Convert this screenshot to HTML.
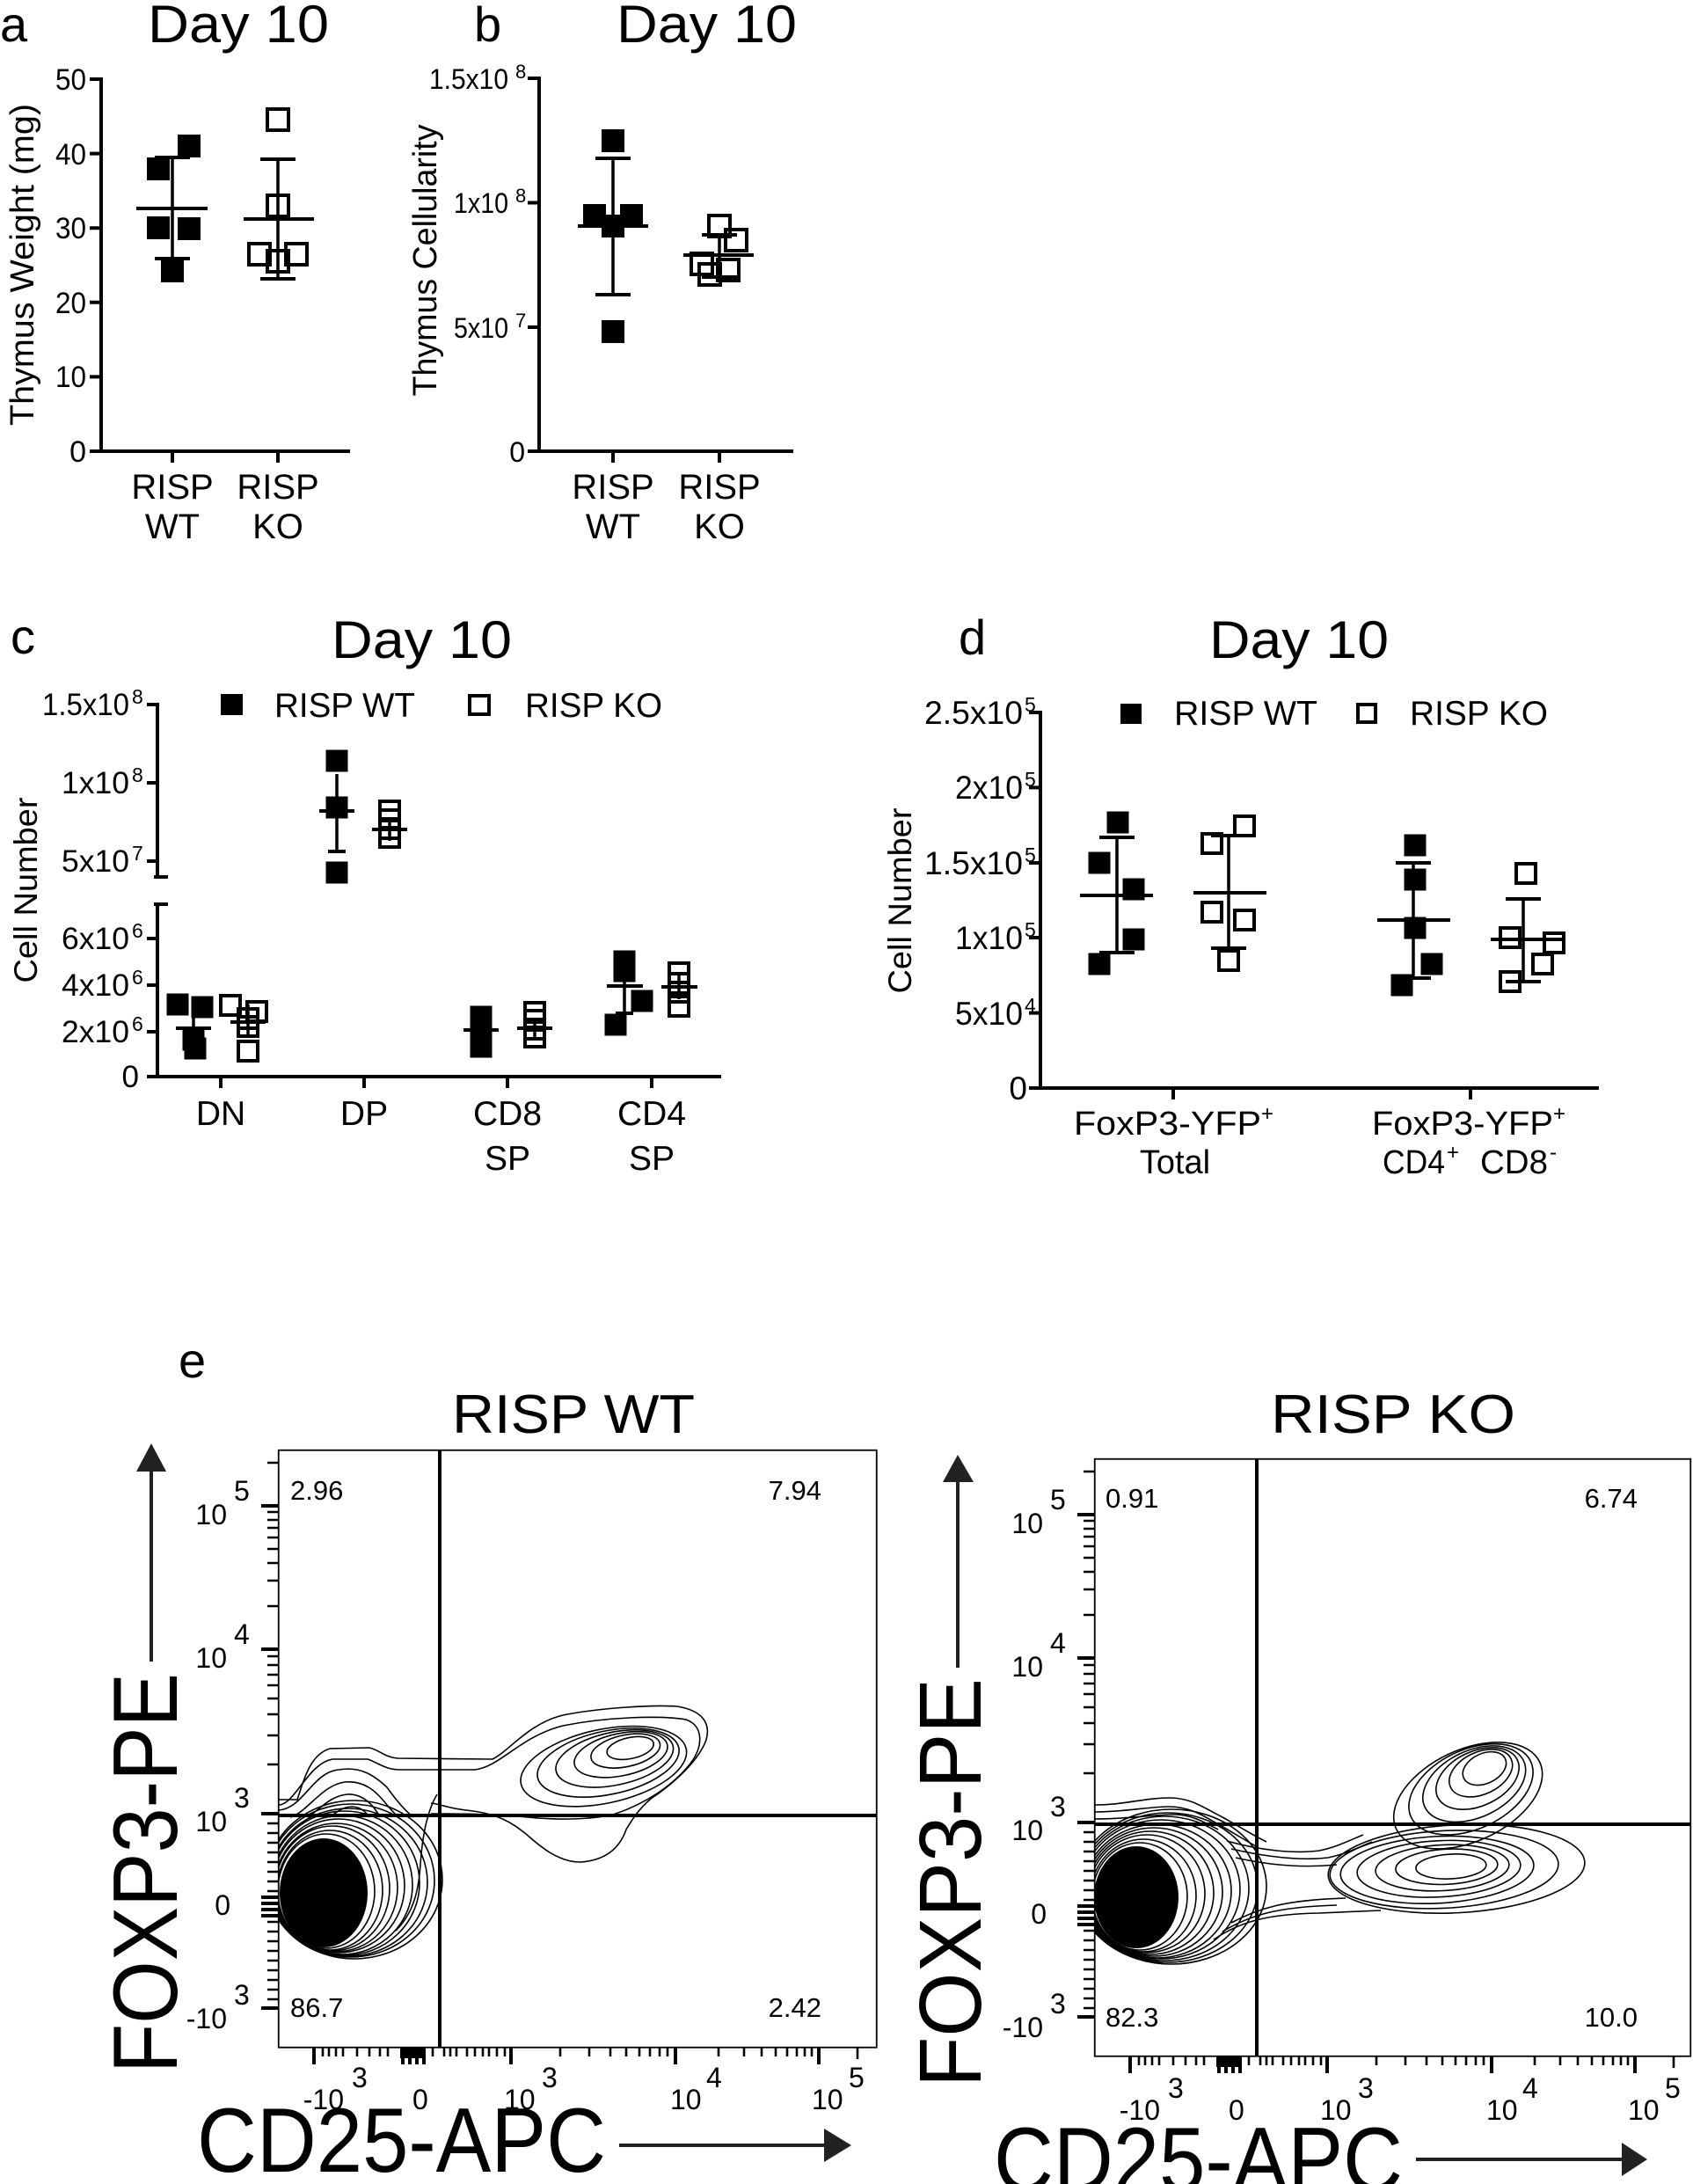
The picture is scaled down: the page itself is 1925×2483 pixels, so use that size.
<!DOCTYPE html>
<html><head><meta charset="utf-8"><style>
html,body{margin:0;padding:0;background:#fff;}
svg{display:block;}
text{font-family:"Liberation Sans",Arial,sans-serif;fill:#000;}
</style></head><body>
<svg width="1925" height="2483" viewBox="0 0 1925 2483" xmlns="http://www.w3.org/2000/svg">
<defs>
<clipPath id="cwt"><rect x="317" y="1649" width="679" height="678"/></clipPath>
<clipPath id="cko"><rect x="1245" y="1659" width="677" height="678"/></clipPath>
</defs>
<rect width="1925" height="2483" fill="#fff"/>

<!-- ===== Panel a ===== -->
<text x="0" y="47" font-size="56">a</text>
<text x="168" y="48" font-size="60" textLength="206" lengthAdjust="spacingAndGlyphs">Day 10</text>
<g stroke="#000" stroke-width="4" fill="none">
<line x1="115" y1="88" x2="115" y2="515"/>
<line x1="113" y1="513" x2="398" y2="513"/>
<path d="M102,90H115M102,174.6H115M102,259.2H115M102,343.8H115M102,428.4H115M102,513H115"/>
<path d="M196,513V526M316,513V526"/>
</g>
<g font-size="34" text-anchor="end">
<text x="98" y="102" textLength="35" lengthAdjust="spacingAndGlyphs">50</text>
<text x="98" y="187" textLength="35" lengthAdjust="spacingAndGlyphs">40</text>
<text x="98" y="271" textLength="35" lengthAdjust="spacingAndGlyphs">30</text>
<text x="98" y="356" textLength="35" lengthAdjust="spacingAndGlyphs">20</text>
<text x="98" y="440" textLength="35" lengthAdjust="spacingAndGlyphs">10</text>
<text x="98" y="525">0</text>
</g>
<g font-size="40" text-anchor="middle">
<text x="196" y="567">RISP</text><text x="196" y="612">WT</text>
<text x="316" y="567">RISP</text><text x="316" y="612">KO</text>
</g>
<text transform="translate(38,301) rotate(-90)" font-size="38" text-anchor="middle" textLength="366" lengthAdjust="spacingAndGlyphs">Thymus Weight (mg)</text>
<g fill="#000">
<rect x="167" y="179" width="26" height="26"/><rect x="202" y="153" width="26" height="26"/>
<rect x="167" y="246" width="26" height="26"/><rect x="202" y="247" width="26" height="26"/>
<rect x="183" y="295" width="26" height="26"/>
</g>
<g stroke="#000" fill="none">
<path stroke-width="4" d="M155,237H236M176,179H216M176,294H216"/>
<path stroke-width="3.5" d="M196,179V294"/>
<path stroke-width="4" d="M277,249H357M296,181H336M296,317H336"/>
<path stroke-width="3.5" d="M316,181V317"/>
<rect x="304" y="124" width="24" height="24" stroke-width="4"/>
<rect x="304" y="222" width="24" height="24" stroke-width="4"/>
<rect x="283" y="277" width="24" height="24" stroke-width="4"/>
<rect x="325" y="277" width="24" height="24" stroke-width="4"/>
<rect x="304" y="285" width="24" height="24" stroke-width="4"/>
</g>

<!-- ===== Panel b ===== -->
<text x="539" y="47" font-size="56">b</text>
<text x="701" y="48" font-size="60" textLength="205" lengthAdjust="spacingAndGlyphs">Day 10</text>
<g stroke="#000" stroke-width="4" fill="none">
<line x1="613" y1="87" x2="613" y2="515"/>
<line x1="611" y1="513" x2="902" y2="513"/>
<path d="M600,89H613M600,230.5H613M600,372H613M600,513H613"/>
<path d="M697,513V526M818,513V526"/>
</g>
<g font-size="32" text-anchor="end">
<text x="578" y="101" textLength="90" lengthAdjust="spacingAndGlyphs">1.5x10</text>
<text x="578" y="242" textLength="62" lengthAdjust="spacingAndGlyphs">1x10</text>
<text x="578" y="384" textLength="62" lengthAdjust="spacingAndGlyphs">5x10</text>
<text x="597" y="525">0</text>
</g>
<g font-size="22">
<text x="586" y="89">8</text><text x="586" y="230">8</text><text x="586" y="372">7</text>
</g>
<g font-size="40" text-anchor="middle">
<text x="697" y="567">RISP</text><text x="697" y="612">WT</text>
<text x="818" y="567">RISP</text><text x="818" y="612">KO</text>
</g>
<text transform="translate(496,296) rotate(-90)" font-size="38" text-anchor="middle" textLength="309" lengthAdjust="spacingAndGlyphs">Thymus Cellularity</text>
<g fill="#000">
<rect x="684" y="147" width="26" height="26"/><rect x="663" y="232" width="26" height="26"/>
<rect x="705" y="232" width="26" height="26"/><rect x="684" y="244" width="26" height="26"/>
<rect x="684" y="364" width="26" height="26"/>
</g>
<g stroke="#000" fill="none">
<path stroke-width="4" d="M657,257H737M677,180H717M677,335H717"/>
<path stroke-width="3.5" d="M697,180V335"/>
<path stroke-width="4" d="M777,290H857M798,267H838M798,315H838"/>
<path stroke-width="3.5" d="M818,267V315"/>
<rect x="806" y="245" width="24" height="24" stroke-width="4"/>
<rect x="825" y="261" width="24" height="24" stroke-width="4"/>
<rect x="786" y="288" width="24" height="24" stroke-width="4"/>
<rect x="816" y="295" width="24" height="24" stroke-width="4"/>
<rect x="795" y="300" width="24" height="24" stroke-width="4"/>
</g>

<!-- ===== Panel c ===== -->
<text x="12" y="743" font-size="56">c</text>
<text x="377" y="748" font-size="60" textLength="205" lengthAdjust="spacingAndGlyphs">Day 10</text>
<rect x="251" y="789" width="25" height="24" fill="#000"/>
<text x="312" y="815" font-size="39" textLength="160" lengthAdjust="spacingAndGlyphs">RISP WT</text>
<rect x="534" y="791" width="22" height="21" fill="none" stroke="#000" stroke-width="4"/>
<text x="597" y="815" font-size="39" textLength="156" lengthAdjust="spacingAndGlyphs">RISP KO</text>
<g stroke="#000" stroke-width="4" fill="none">
<line x1="179" y1="799" x2="179" y2="997"/>
<line x1="179" y1="1028" x2="179" y2="1226"/>
<path d="M175,997H191M175,1028H191"/>
<line x1="177" y1="1224" x2="820" y2="1224"/>
<path d="M167,801H179M167,890H179M167,979H179M167,1067H179M167,1120H179M167,1173H179M167,1224H179"/>
<path d="M251,1224V1237M414,1224V1237M577,1224V1237M741,1224V1237"/>
</g>
<g font-size="35" text-anchor="end">
<text x="147" y="813" textLength="99" lengthAdjust="spacingAndGlyphs">1.5x10</text>
<text x="147" y="902" textLength="77" lengthAdjust="spacingAndGlyphs">1x10</text>
<text x="147" y="991" textLength="77" lengthAdjust="spacingAndGlyphs">5x10</text>
<text x="147" y="1079" textLength="77" lengthAdjust="spacingAndGlyphs">6x10</text>
<text x="147" y="1132" textLength="77" lengthAdjust="spacingAndGlyphs">4x10</text>
<text x="147" y="1185" textLength="77" lengthAdjust="spacingAndGlyphs">2x10</text>
<text x="158" y="1236">0</text>
</g>
<g font-size="23">
<text x="150" y="800">8</text><text x="150" y="889">8</text><text x="150" y="978">7</text>
<text x="150" y="1066">6</text><text x="150" y="1119">6</text><text x="150" y="1172">6</text>
</g>
<g font-size="39" text-anchor="middle">
<text x="251" y="1279">DN</text><text x="414" y="1279">DP</text>
<text x="577" y="1279">CD8</text><text x="577" y="1330">SP</text>
<text x="741" y="1279">CD4</text><text x="741" y="1330">SP</text>
</g>
<text transform="translate(42,1012) rotate(-90)" font-size="37" text-anchor="middle" textLength="211" lengthAdjust="spacingAndGlyphs">Cell Number</text>
<g fill="#000">
<rect x="189.5" y="1129.5" width="25" height="25"/><rect x="217.5" y="1132.5" width="25" height="25"/>
<rect x="207.5" y="1169.5" width="25" height="25"/><rect x="209.5" y="1179.5" width="25" height="25"/>
<rect x="370.5" y="852.5" width="25" height="25"/><rect x="370.5" y="905.5" width="25" height="25"/>
<rect x="370.5" y="979.5" width="25" height="25"/>
<rect x="534.5" y="1143.5" width="25" height="25"/><rect x="534.5" y="1153.5" width="25" height="25"/>
<rect x="534.5" y="1165.5" width="25" height="25"/><rect x="534.5" y="1177.5" width="25" height="25"/>
<rect x="697.5" y="1080.5" width="25" height="25"/><rect x="697.5" y="1091.5" width="25" height="25"/>
<rect x="717.5" y="1125.5" width="25" height="25"/><rect x="687.5" y="1152.5" width="25" height="25"/>
</g>
<g stroke="#000" fill="none" stroke-width="4">
<rect x="251" y="1132" width="22" height="22"/><rect x="281" y="1139" width="22" height="22"/>
<rect x="271" y="1147" width="22" height="22"/><rect x="271" y="1156" width="22" height="22"/>
<rect x="271" y="1184" width="22" height="22"/>
<rect x="432" y="911" width="22" height="22"/><rect x="432" y="921" width="22" height="22"/>
<rect x="432" y="931" width="22" height="22"/><rect x="432" y="941" width="22" height="22"/>
<rect x="597" y="1140" width="22" height="22"/><rect x="597" y="1149" width="22" height="22"/>
<rect x="597" y="1159" width="22" height="22"/><rect x="597" y="1168" width="22" height="22"/>
<rect x="761" y="1095" width="22" height="22"/><rect x="761" y="1107" width="22" height="22"/>
<rect x="761" y="1117" width="22" height="22"/><rect x="761" y="1133" width="22" height="22"/>
<path d="M200,1169H240M262,1162H302M363,922H403M423,943H463M527,1171H567M588,1169H628M690,1121H731M752,1122H793"/>
<path d="M373,968H393M700,1152H720"/>
<path stroke-width="3.5" d="M220,1147V1188M282,1142V1180M383,880V968M443,930V956M547,1160V1182M608,1157V1181M710,1090V1152M772,1108V1136"/>
</g>

<!-- ===== Panel d ===== -->
<text x="1090" y="744" font-size="56">d</text>
<text x="1375" y="748" font-size="60" textLength="204" lengthAdjust="spacingAndGlyphs">Day 10</text>
<rect x="1274" y="800" width="24" height="23" fill="#000"/>
<text x="1335" y="824" font-size="39" textLength="163" lengthAdjust="spacingAndGlyphs">RISP WT</text>
<rect x="1544" y="801" width="20" height="20" fill="none" stroke="#000" stroke-width="4"/>
<text x="1603" y="824" font-size="39" textLength="157" lengthAdjust="spacingAndGlyphs">RISP KO</text>
<g stroke="#000" stroke-width="4" fill="none">
<line x1="1183" y1="808" x2="1183" y2="1239"/>
<line x1="1181" y1="1237" x2="1818" y2="1237"/>
<path d="M1170,810H1183M1170,895.4H1183M1170,981H1183M1170,1066H1183M1170,1151.6H1183M1170,1237H1183"/>
<path d="M1334,1237V1250M1672,1237V1250"/>
</g>
<g font-size="37" text-anchor="end">
<text x="1163" y="823" textLength="112" lengthAdjust="spacingAndGlyphs">2.5x10</text>
<text x="1163" y="908" textLength="77" lengthAdjust="spacingAndGlyphs">2x10</text>
<text x="1163" y="994" textLength="112" lengthAdjust="spacingAndGlyphs">1.5x10</text>
<text x="1163" y="1079" textLength="77" lengthAdjust="spacingAndGlyphs">1x10</text>
<text x="1163" y="1165" textLength="77" lengthAdjust="spacingAndGlyphs">5x10</text>
<text x="1168" y="1250">0</text>
</g>
<g font-size="23">
<text x="1165" y="809">5</text><text x="1165" y="894">5</text><text x="1165" y="980">5</text>
<text x="1165" y="1065">5</text><text x="1165" y="1151">4</text>
</g>
<g font-size="38">
<text x="1221" y="1290" textLength="213" lengthAdjust="spacingAndGlyphs">FoxP3-YFP</text>
<text x="1336" y="1334" text-anchor="middle">Total</text>
<text x="1560" y="1290" textLength="206" lengthAdjust="spacingAndGlyphs">FoxP3-YFP</text>
<text x="1572" y="1334" textLength="71" lengthAdjust="spacingAndGlyphs">CD4</text>
<text x="1683" y="1334" textLength="77" lengthAdjust="spacingAndGlyphs">CD8</text>
</g>
<g font-size="24">
<text x="1434" y="1274">+</text><text x="1766" y="1274">+</text>
<text x="1645" y="1318">+</text><text x="1762" y="1318">-</text>
</g>
<text transform="translate(1036,1024) rotate(-90)" font-size="37" text-anchor="middle" textLength="211" lengthAdjust="spacingAndGlyphs">Cell Number</text>
<g fill="#000">
<rect x="1258.5" y="922.5" width="25" height="25"/><rect x="1237.5" y="968.5" width="25" height="25"/>
<rect x="1276.5" y="998.5" width="25" height="25"/><rect x="1276.5" y="1055.5" width="25" height="25"/>
<rect x="1237.5" y="1083.5" width="25" height="25"/>
<rect x="1596.5" y="948.5" width="25" height="25"/><rect x="1596.5" y="987.5" width="25" height="25"/>
<rect x="1596.5" y="1042.5" width="25" height="25"/><rect x="1615.5" y="1083.5" width="25" height="25"/>
<rect x="1581.5" y="1107.5" width="25" height="25"/>
</g>
<g stroke="#000" fill="none" stroke-width="4">
<rect x="1404" y="928" width="22" height="22"/><rect x="1367" y="948" width="22" height="22"/>
<rect x="1367" y="1026" width="22" height="22"/><rect x="1404" y="1035" width="22" height="22"/>
<rect x="1386" y="1081" width="22" height="22"/>
<rect x="1724" y="982" width="22" height="22"/><rect x="1706" y="1055" width="22" height="22"/>
<rect x="1756" y="1061" width="22" height="22"/><rect x="1743" y="1085" width="22" height="22"/>
<rect x="1706" y="1105" width="22" height="22"/>
<path d="M1228,1018H1311M1250,952H1290M1250,1083H1290"/>
<path d="M1357,1015H1440M1377,950H1417M1377,1078H1417"/>
<path d="M1566,1046H1649M1587,981H1627M1587,1112H1627"/>
<path d="M1695,1068H1778M1712,1022H1752M1712,1116H1752"/>
<path stroke-width="3.5" d="M1270,952V1083M1397,950V1078M1607,981V1112M1732,1022V1116"/>
</g>

<!-- ===== Panel e ===== -->
<text x="203" y="1566" font-size="56">e</text>
<text x="514" y="1629" font-size="62" textLength="276" lengthAdjust="spacingAndGlyphs">RISP WT</text>
<text x="1445" y="1629" font-size="62" textLength="278" lengthAdjust="spacingAndGlyphs">RISP KO</text>

<!-- axis titles & arrows -->
<text transform="translate(201,2357) rotate(-90)" font-size="104" textLength="455" lengthAdjust="spacingAndGlyphs">FOXP3-PE</text>
<text transform="translate(1115,2373) rotate(-90)" font-size="100" textLength="465" lengthAdjust="spacingAndGlyphs">FOXP3-PE</text>
<text x="224" y="2469" font-size="104" textLength="465" lengthAdjust="spacingAndGlyphs">CD25-APC</text>
<text x="1130" y="2491" font-size="104" textLength="465" lengthAdjust="spacingAndGlyphs">CD25-APC</text>
<g fill="#222" stroke="none">
<rect x="170" y="1670" width="4" height="219"/>
<polygon points="155,1673 189,1673 172,1641"/>
<rect x="1087" y="1682" width="4" height="214"/>
<polygon points="1072,1685 1107,1685 1089,1654"/>
<rect x="704" y="2437" width="236" height="4"/>
<polygon points="937,2420 937,2458 968,2439"/>
<rect x="1610" y="2453" width="236" height="4"/>
<polygon points="1844,2436 1844,2474 1873,2455"/>
</g>

<!-- WT contours -->
<g clip-path="url(#cwt)" fill="none" stroke="#000" stroke-width="1.6">
<ellipse cx="368" cy="2152" rx="50" ry="62" fill="#000" stroke="none"/>
<ellipse cx="371" cy="2150" rx="55" ry="65"/>
<ellipse cx="375" cy="2149" rx="60" ry="68"/>
<ellipse cx="378" cy="2147" rx="65" ry="71"/>
<ellipse cx="382" cy="2146" rx="70" ry="73"/>
<ellipse cx="385" cy="2144" rx="75" ry="76"/>
<ellipse cx="389" cy="2143" rx="80" ry="79"/>
<ellipse cx="392" cy="2141" rx="85" ry="82"/>
<ellipse cx="396" cy="2140" rx="90" ry="84"/>
<ellipse cx="399" cy="2138" rx="95" ry="87"/>
<ellipse cx="403" cy="2137" rx="100" ry="90"/>
<path d="M317,2046 L338,2046 C345,2025 352,1995 375,1988 L420,1987 C432,1990 438,1998 452,1999 L560,2000 C580,1990 600,1960 640,1950 C680,1942 740,1938 770,1940 C800,1945 808,1960 803,1978 C795,2000 770,2025 740,2045 C725,2058 718,2070 712,2080 C705,2100 690,2115 660,2117 C635,2117 615,2100 598,2085 C585,2075 570,2062 530,2058 C510,2056 505,2052 490,2050"/>
<path d="M317,2052 C335,2052 350,2005 378,2000 L418,2000 C430,2004 438,2012 455,2012 L540,2012 C570,2008 590,1975 640,1962 C690,1952 750,1950 780,1955 C800,1962 800,1985 785,2005 C765,2030 735,2050 700,2062 C680,2068 640,2070 600,2066 C560,2062 520,2062 490,2062"/>
<path d="M317,2058 C345,2056 355,2015 385,2012 C410,2008 425,2018 440,2032 C450,2046 460,2058 470,2066"/>
<path d="M330,2066 C350,2060 365,2030 392,2026 C415,2024 428,2037 440,2052 C447,2060 452,2066 455,2068"/>
<path d="M350,2066 C365,2056 375,2042 395,2040 C412,2039 425,2052 432,2066"/>
<path d="M375,2066 C385,2058 392,2054 400,2054 C410,2054 416,2060 420,2066"/>
<path d="M497,2040 C485,2060 480,2090 478,2120 C476,2150 470,2175 450,2195"/>
<g transform="rotate(-12 705 1995)">
<ellipse cx="718" cy="1990" rx="27" ry="12"/>
<ellipse cx="712" cy="1992" rx="40" ry="18"/>
<ellipse cx="706" cy="1995" rx="54" ry="24"/>
<ellipse cx="698" cy="1998" rx="68" ry="30"/>
<ellipse cx="690" cy="2001" rx="82" ry="36"/>
<ellipse cx="684" cy="2004" rx="96" ry="42"/>
</g>
</g>

<!-- KO contours -->
<g clip-path="url(#cko)" fill="none" stroke="#000" stroke-width="1.6">
<ellipse cx="1292" cy="2157" rx="48" ry="58" fill="#000" stroke="none"/>
<ellipse cx="1296" cy="2156" rx="54" ry="61"/>
<ellipse cx="1300" cy="2155" rx="60" ry="64"/>
<ellipse cx="1304" cy="2153" rx="66" ry="67"/>
<ellipse cx="1308" cy="2152" rx="72" ry="70"/>
<ellipse cx="1312" cy="2151" rx="78" ry="73"/>
<ellipse cx="1316" cy="2150" rx="84" ry="76"/>
<ellipse cx="1320" cy="2148" rx="90" ry="79"/>
<ellipse cx="1324" cy="2147" rx="96" ry="82"/>
<ellipse cx="1328" cy="2146" rx="102" ry="85"/>
<ellipse cx="1332" cy="2145" rx="108" ry="88"/>
<path d="M1244,2052 C1280,2052 1300,2044 1330,2044 C1355,2044 1370,2056 1390,2066 C1405,2074 1420,2084 1440,2094"/>
<path d="M1244,2060 C1280,2060 1305,2054 1330,2054 C1352,2054 1368,2064 1385,2074 C1400,2082 1415,2092 1430,2100"/>
<path d="M1244,2068 C1285,2068 1310,2063 1335,2063 C1355,2063 1370,2072 1385,2080"/>
<path d="M1395,2093 C1430,2103 1470,2108 1500,2104 C1520,2100 1535,2092 1550,2086"/>
<path d="M1400,2102 C1435,2110 1475,2116 1510,2112 C1530,2108 1545,2100 1560,2094"/>
<path d="M1405,2112 C1440,2120 1480,2124 1520,2120"/>
<path d="M1380,2205 C1410,2185 1440,2176 1500,2175 L1570,2172"/>
<path d="M1390,2196 C1420,2178 1450,2168 1520,2166"/>
<path d="M1400,2186 C1430,2170 1460,2160 1530,2158"/>
<g transform="rotate(-3 1650 2124)">
<ellipse cx="1650" cy="2122" rx="40" ry="14"/>
<ellipse cx="1645" cy="2122" rx="58" ry="20"/>
<ellipse cx="1640" cy="2123" rx="76" ry="26"/>
<ellipse cx="1636" cy="2124" rx="93" ry="32"/>
<ellipse cx="1634" cy="2125" rx="110" ry="38"/>
<ellipse cx="1642" cy="2125" rx="130" ry="44"/>
<ellipse cx="1656" cy="2125" rx="146" ry="50"/>
</g>
<g transform="rotate(-25 1680 2022)">
<ellipse cx="1692" cy="2015" rx="26" ry="17"/>
<ellipse cx="1686" cy="2018" rx="38" ry="24"/>
<ellipse cx="1680" cy="2022" rx="50" ry="31"/>
<ellipse cx="1674" cy="2026" rx="62" ry="38"/>
<ellipse cx="1668" cy="2030" rx="75" ry="45"/>
<ellipse cx="1662" cy="2035" rx="90" ry="52"/>
</g>
</g>

<!-- WT frame, gates, ticks, labels -->
<g>
<rect x="316.75" y="1648.75" width="680" height="679" fill="none" stroke="#000" stroke-width="1.8"/>
<line x1="500" y1="1649" x2="500" y2="2328" stroke="#000" stroke-width="4"/>
<line x1="317" y1="2064" x2="997" y2="2064" stroke="#000" stroke-width="4"/>
<path stroke="#000" stroke-width="2.6" d="M304,1663H316M304,1719H316M304,1728H316M304,1737H316M304,1748H316M304,1761H316M304,1777H316M304,1797H316M304,1826H316M304,1883H316M304,1893H316M304,1904H316M304,1916H316M304,1931H316M304,1949H316M304,1973H316M304,2006H316M304,2073H316M304,2084H316M304,2095H316M304,2106H316M304,2117H316M304,2128H316M304,2139H316M304,2150H316M304,2185H316M304,2196H316M304,2207H316M304,2218H316M304,2229H316M304,2240H316M304,2251H316M304,2262H316M304,2273H316"/>
<path stroke="#000" stroke-width="4" d="M297,1712H316M297,1875H316M297,2062H316M297,2157H316M297,2164H316M297,2171H316M297,2178H316M297,2283H316"/>
<path stroke="#000" stroke-width="2.6" d="M367,2328V2338M374,2328V2338M382,2328V2338M390,2328V2338M406,2328V2338M420,2328V2338M432,2328V2338M441,2328V2338M492,2328V2338M505,2328V2338M512,2328V2338M519,2328V2338M531,2328V2338M540,2328V2338M549,2328V2338M556,2328V2338M565,2328V2338M574,2328V2338M637,2328V2338M670,2328V2338M694,2328V2338M712,2328V2338M727,2328V2338M739,2328V2338M750,2328V2338M759,2328V2338M817,2328V2338M846,2328V2338M866,2328V2338M882,2328V2338M895,2328V2338M906,2328V2338M915,2328V2338M923,2328V2338M975,2328V2341"/>
<path stroke="#000" stroke-width="4" d="M357,2328V2347M458,2328V2347M466,2328V2347M474,2328V2347M482,2328V2347M581,2328V2347M768,2328V2347M931,2328V2347"/>
<rect x="455" y="2328" width="28" height="12" fill="#000"/>
<g font-size="32">
<text x="258" y="1733" text-anchor="end">10</text><text x="266" y="1706">5</text>
<text x="258" y="1896" text-anchor="end">10</text><text x="266" y="1869">4</text>
<text x="258" y="2082" text-anchor="end">10</text><text x="266" y="2055">3</text>
<text x="262" y="2177" text-anchor="end">0</text>
<text x="258" y="2306" text-anchor="end">-10</text><text x="266" y="2279">3</text>
<text x="391" y="2398" text-anchor="end">-10</text><text x="400" y="2373">3</text>
<text x="469" y="2398">0</text>
<text x="573" y="2398">10</text><text x="616" y="2373">3</text>
<text x="762" y="2398">10</text><text x="803" y="2373">4</text>
<text x="923" y="2398">10</text><text x="965" y="2373">5</text>
</g>
</g>
<g font-size="31">
<text x="330" y="1705">2.96</text><text x="934" y="1705" text-anchor="end">7.94</text>
<text x="330" y="2293">86.7</text><text x="934" y="2293" text-anchor="end">2.42</text>
</g>

<!-- KO frame, gates, ticks, labels -->
<rect x="1244.75" y="1658.75" width="677.5" height="679" fill="none" stroke="#000" stroke-width="1.8"/>
<line x1="1429" y1="1659" x2="1429" y2="2338" stroke="#000" stroke-width="4"/>
<line x1="1245" y1="2074" x2="1923" y2="2074" stroke="#000" stroke-width="4"/>
<g transform="translate(928,10)">
<path stroke="#000" stroke-width="2.6" d="M304,1663H316M304,1719H316M304,1728H316M304,1737H316M304,1748H316M304,1761H316M304,1777H316M304,1797H316M304,1826H316M304,1883H316M304,1893H316M304,1904H316M304,1916H316M304,1931H316M304,1949H316M304,1973H316M304,2006H316M304,2073H316M304,2084H316M304,2095H316M304,2106H316M304,2117H316M304,2128H316M304,2139H316M304,2150H316M304,2185H316M304,2196H316M304,2207H316M304,2218H316M304,2229H316M304,2240H316M304,2251H316M304,2262H316M304,2273H316"/>
<path stroke="#000" stroke-width="4" d="M297,1712H316M297,1875H316M297,2062H316M297,2157H316M297,2164H316M297,2171H316M297,2178H316M297,2283H316"/>
<path stroke="#000" stroke-width="2.6" d="M367,2328V2338M374,2328V2338M382,2328V2338M390,2328V2338M406,2328V2338M420,2328V2338M432,2328V2338M441,2328V2338M492,2328V2338M505,2328V2338M512,2328V2338M519,2328V2338M531,2328V2338M540,2328V2338M549,2328V2338M556,2328V2338M565,2328V2338M574,2328V2338M637,2328V2338M670,2328V2338M694,2328V2338M712,2328V2338M727,2328V2338M739,2328V2338M750,2328V2338M759,2328V2338M817,2328V2338M846,2328V2338M866,2328V2338M882,2328V2338M895,2328V2338M906,2328V2338M915,2328V2338M923,2328V2338M975,2328V2341"/>
<path stroke="#000" stroke-width="4" d="M357,2328V2347M458,2328V2347M466,2328V2347M474,2328V2347M482,2328V2347M581,2328V2347M768,2328V2347M931,2328V2347"/>
<rect x="455" y="2328" width="28" height="12" fill="#000"/>
<g font-size="32">
<text x="258" y="1733" text-anchor="end">10</text><text x="266" y="1706">5</text>
<text x="258" y="1896" text-anchor="end">10</text><text x="266" y="1869">4</text>
<text x="258" y="2082" text-anchor="end">10</text><text x="266" y="2055">3</text>
<text x="262" y="2177" text-anchor="end">0</text>
<text x="258" y="2306" text-anchor="end">-10</text><text x="266" y="2279">3</text>
<text x="391" y="2400" text-anchor="end">-10</text><text x="400" y="2375">3</text>
<text x="469" y="2400">0</text>
<text x="573" y="2400">10</text><text x="616" y="2375">3</text>
<text x="762" y="2400">10</text><text x="803" y="2375">4</text>
<text x="923" y="2400">10</text><text x="965" y="2375">5</text>
</g>
</g>
<g font-size="31">
<text x="1257" y="1714">0.91</text><text x="1862" y="1714" text-anchor="end">6.74</text>
<text x="1257" y="2304">82.3</text><text x="1862" y="2304" text-anchor="end">10.0</text>
</g>
</svg>
</body></html>
